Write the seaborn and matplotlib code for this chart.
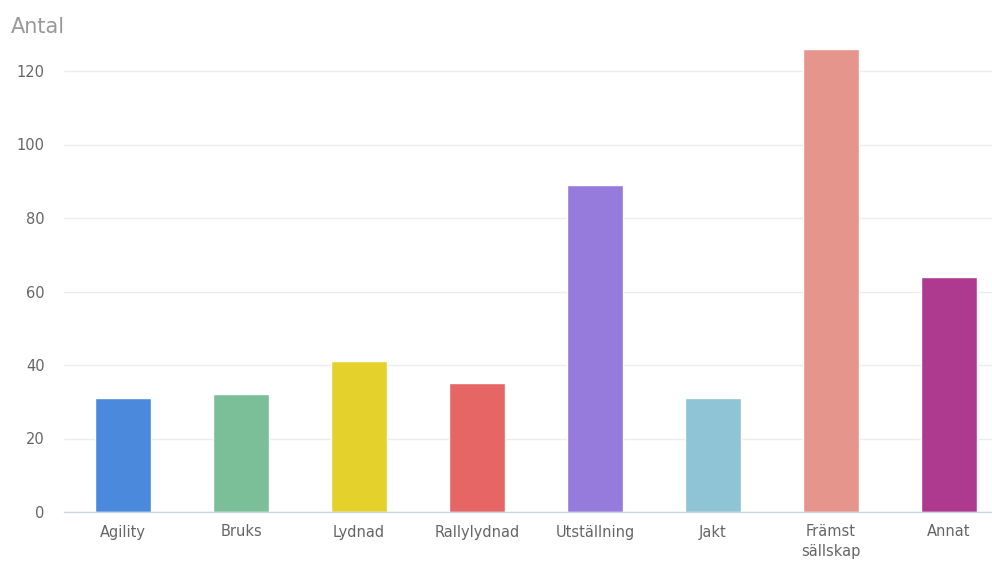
import pandas as pd
import seaborn as sns
import matplotlib.pyplot as plt

categories = ['Agility', 'Bruks', 'Lydnad', 'Rallylydnad', 'Utställning', 'Jakt',
              'Främst\nsällskap', 'Annat']
values = [31, 32, 41, 35, 89, 31, 126, 64]
colors = ['#4a89dc', '#7bbf98', '#e5d12c', '#e66565', '#967adc', '#8fc3d6',
          '#e5958c', '#ad3a8f']
yticks = [0, 20, 40, 60, 80, 100, 120]

df = pd.DataFrame({'kategori': categories, 'antal': values})

sns.set_theme(style='white')
plt.rcParams['font.family'] = ['DejaVu Sans']

fig = plt.figure(figsize=(9.92, 5.61), dpi=100)
# plot area runs past the right edge, like the cropped original
px = 3.675  # pixels per unit
ymax = 130
ax = fig.add_axes([64 / 992, 49 / 561, 944 / 992, ymax * px / 561])

sns.barplot(data=df, x='kategori', y='antal', hue='kategori', palette=colors,
            width=0.475, legend=False, ax=ax, saturation=1)

ax.set_xlim(-0.5, 7.5)
ax.set_ylim(0, ymax)
ax.set_yticks(yticks)
ax.yaxis.grid(True, color='#ececec', linewidth=1)
ax.set_axisbelow(True)
for s in ['top', 'right', 'left']:
    ax.spines[s].set_visible(False)
ax.spines['bottom'].set_color('#ccd6eb')
ax.spines['bottom'].set_linewidth(1)
ax.tick_params(axis='y', length=0, pad=14, labelsize=10.5, labelcolor='#666666')
ax.tick_params(axis='x', length=0, pad=9, labelsize=10.5, labelcolor='#666666')
for lab in ax.get_xticklabels():
    lab.set_linespacing(1.35)
ax.set_xlabel('')
ax.set_ylabel('')

fig.text(11 / 992, 1 - 27 / 561, 'Antal', fontsize=15, color='#999999',
         ha='left', va='center')

fig.savefig('out.png', dpi=100)
